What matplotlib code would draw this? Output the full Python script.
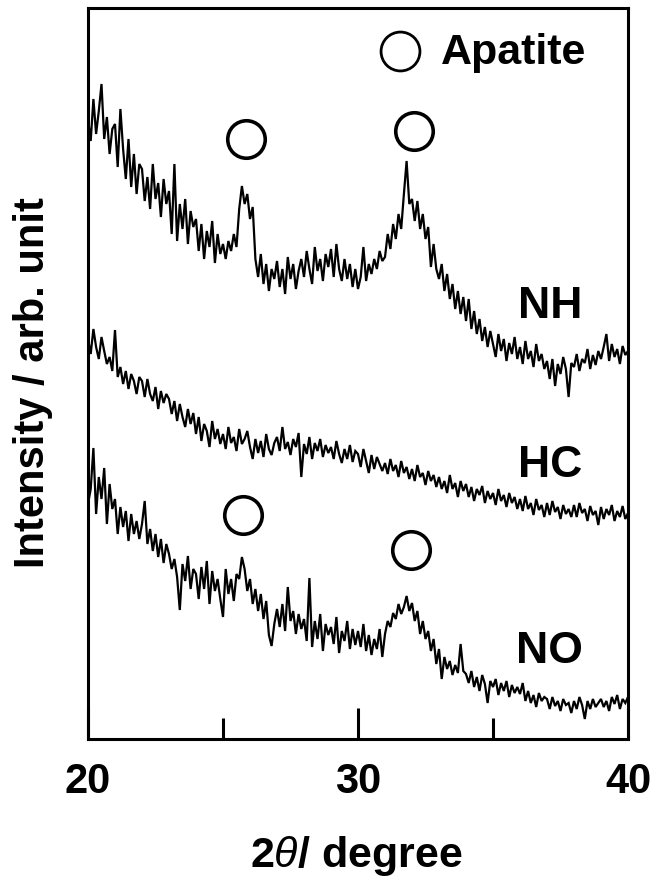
import numpy as np
import matplotlib
matplotlib.use("Agg")
import matplotlib.pyplot as plt

plt.rcParams['font.family'] = ['Liberation Sans', 'DejaVu Sans']
plt.rcParams['font.weight'] = 'bold'
plt.rcParams['mathtext.fontset'] = 'custom'
plt.rcParams['mathtext.it'] = 'Liberation Sans:italic:normal'
plt.rcParams['mathtext.rm'] = 'Liberation Sans:bold'

# 2-theta grid: 20.0 .. 40.0 in 0.1 degree steps
two_theta = np.round(np.arange(200, 401) / 10.0, 1)

# Intensity (arb. unit), one row per degree
nh = [
    620, 598, 640, 605, 628, 655, 600, 622, 585, 610,
    615, 572, 630, 590, 560, 600, 552, 585, 545, 575,
    570, 538, 562, 530, 575, 540, 556, 522, 560, 535,
    548, 505, 575, 498, 535, 510, 540, 495, 528, 512,
    520, 488, 515, 480, 508, 492, 518, 476, 505, 485,
    495, 480, 498, 488, 505, 492, 530, 553, 535, 545,
    520, 532, 480, 462, 485, 455, 475, 448, 470, 460,
    478, 452, 470, 445, 482, 460, 475, 450, 468, 480,
    462, 488, 470, 455, 492, 468, 480, 458, 485, 472,
    490, 462, 495, 470, 458, 480, 460, 475, 452, 470,
    450, 462, 492, 458, 475, 465, 480, 470, 488, 478,
    482, 505, 490, 515, 500, 525, 510, 545, 578, 535,
    540, 518, 538, 510, 525, 500, 512, 472, 495, 470,
    460, 475, 448, 465, 440, 455, 430, 448, 425, 442,
    418, 440, 410, 428, 405, 420, 398, 412, 392, 408,
    395, 382, 405, 388, 400, 378, 396, 385, 402, 380,
    392, 375, 398, 380, 388, 372, 395, 378, 385, 370,
    378, 360, 380, 353, 375, 365, 382, 370, 342, 376,
    372, 385, 368, 380, 376, 390, 370, 384, 374, 388,
    380, 392, 405, 378, 395, 382, 390, 375, 393, 384,
    388,
]
hc = [
    400, 385, 410, 392, 380, 402, 388, 375, 382, 368,
    409, 362, 372, 355, 368, 350, 365, 358, 345, 362,
    358, 342, 360, 345, 338, 352, 330, 348, 336, 345,
    340, 325, 338, 318, 335, 322, 312, 330, 315, 326,
    305, 322, 298, 315, 308, 292, 318, 300, 310, 295,
    305, 290, 312, 296, 302, 288, 310, 295, 300, 308,
    292, 280, 300, 286, 298, 282, 305, 290, 284, 296,
    302, 288, 312, 290, 297, 284, 300, 292, 306, 262,
    295, 285, 302, 280, 296, 288, 300, 282, 294, 286,
    292, 280, 298, 285, 276, 290, 280, 294, 277, 288,
    285, 272, 290, 278, 266, 284, 270, 282, 275, 268,
    276, 265, 280, 268, 274, 262, 278, 266, 272, 260,
    270, 258, 274, 262, 266, 254, 268, 258, 264, 252,
    262, 250, 258, 246, 264, 250, 256, 242, 258, 248,
    255, 242, 252, 238, 250, 244, 253, 236, 248, 240,
    246, 234, 250, 238, 244, 232, 246, 236, 242, 230,
    240, 228, 243, 230, 236, 224, 240, 229, 234, 222,
    236, 224, 238, 227, 232, 220, 234, 225, 230, 222,
    234, 222, 236, 226, 230, 218, 233, 224, 228, 214,
    232, 220, 230, 224, 234, 218, 228, 222, 233, 220,
    226,
]
no = [
    235, 250, 291, 225, 262, 240, 271, 215, 255, 230,
    240, 205, 232, 212, 228, 198, 225, 205, 218, 200,
    215, 238, 195, 210, 188, 205, 182, 200, 176, 195,
    185, 170, 180, 162, 129, 175, 158, 183, 150, 170,
    165, 140, 172, 150, 178, 135, 168, 148, 160, 140,
    122, 170, 145, 160, 138, 165, 160, 182, 170, 148,
    160, 135, 150, 128, 145, 120, 138, 104, 93, 115,
    130, 112, 135, 108, 152, 118, 128, 105, 125, 110,
    120, 98, 161, 92, 118, 100, 125, 88, 115, 104,
    112, 95, 122, 86, 108, 98, 118, 90, 110, 94,
    108, 92, 115, 88, 104, 84, 100, 90, 110, 82,
    105, 118, 112, 126, 120, 135, 125, 132, 143, 128,
    136, 118, 128, 105, 118, 100, 108, 88, 100, 75,
    90, 60, 82, 70, 78, 64, 74, 66, 95, 68,
    65, 56, 68, 52, 62, 48, 64, 55, 36, 58,
    52, 60, 44, 56, 48, 58, 42, 54, 46, 52,
    45, 56, 38, 48, 36, 44, 32, 46, 38, 42,
    40, 30, 42, 33, 38, 28, 40, 34, 36, 26,
    38, 30, 42, 34, 20, 38, 30, 40, 32, 36,
    40, 32, 38, 28, 42, 35, 44, 30, 40, 36,
    42,
]

series_names = ['NH', 'HC', 'NO']
label_pos = [(37.1, 422), (37.1, 263), (37.1, 77)]

# apatite peak markers (2-theta, intensity)
apatite_x = [25.85, 32.07, 25.74, 31.96]
apatite_y = [600, 608, 224, 189]
legend_marker = (31.56, 688)
legend_text = 'Apatite'

xticks_major = [20, 30, 40]
xticks_minor = [25, 35]

fig = plt.figure(figsize=(6.57, 8.78), dpi=100)
ax = fig.add_axes([88 / 657, 1 - 740 / 878, 540 / 657, 731 / 878])

for ys in (nh, hc, no):
    ax.plot(two_theta, ys, color='black', lw=1.6, solid_joinstyle='miter')

ax.plot(apatite_x, apatite_y, 'o', ms=27, mfc='none', mec='black', mew=2.6,
        clip_on=False)
ax.plot([legend_marker[0]], [legend_marker[1]], 'o', ms=28, mfc='none',
        mec='black', mew=2.0)
ax.text(33.07, 676, legend_text, fontsize=31, fontweight='bold',
        ha='left', va='baseline')

for name, (lx, ly) in zip(series_names, label_pos):
    ax.text(lx, ly, name, fontsize=32, fontweight='bold', ha='center',
            va='baseline')

ax.set_xlim(20, 40)
ax.set_ylim(0, 731)
ax.set_xticks(xticks_major)
ax.set_xticklabels([str(t) for t in xticks_major])
ax.set_xticks(xticks_minor, minor=True)
ax.set_yticks([])
ax.tick_params(axis='x', which='major', direction='in', length=22, width=2.2,
               labelsize=30, pad=16)
ax.tick_params(axis='x', which='minor', direction='in', length=15, width=2.2)
for lab in ax.get_xticklabels():
    lab.set_fontweight('bold')
for sp in ax.spines.values():
    sp.set_linewidth(2.2)

fig.text(356 / 657, 1 - 856 / 878, r'2$\it{\theta}$/ degree', fontsize=31,
         fontweight='bold', ha='center', va='center')
fig.text(33 / 657, 1 - 383 / 878, 'Intensity / arb. unit', fontsize=30,
         fontweight='bold', ha='center', va='center', rotation=90)

fig.savefig('out.png', dpi=100)
